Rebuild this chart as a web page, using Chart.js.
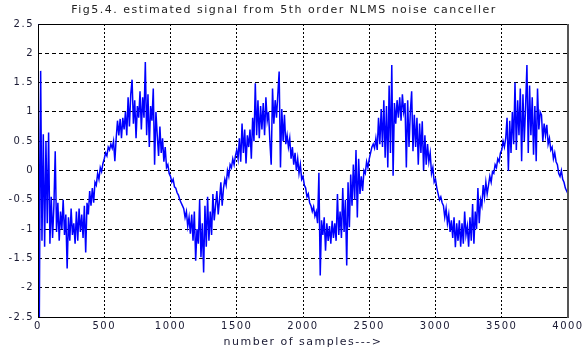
<!DOCTYPE html>
<html>
<head>
<meta charset="utf-8">
<script src="https://cdn.jsdelivr.net/npm/chart.js@4.4.0/dist/chart.umd.min.js"></script>
<style>
  html, body { margin: 0; padding: 0; background: #fff; }
  #wrap { width: 586px; height: 351px; position: relative; }
</style>
</head>
<body>
<div id="wrap"><canvas id="chart"></canvas></div>
<script>
// estimated signal, every 10 samples
const sampleStep = 10;
const signal = [
  2.5, -2.5, 1.7, -1.2, 0.62, -1.3, 0.5, -0.9, 0.65, -1.25,
  -0.45, -1.15, -0.6, 0.33, -1.05, -0.55, -1.2, -0.7, -1.0, -0.5,
  -1.1, -0.75, -1.67, -0.8, -1.2, -0.65, -1.1, -0.9, -1.25, -0.7,
  -1.2, -0.65, -1.05, -0.75, -1.15, -0.6, -1.4, -0.55, -0.75, -0.35,
  -0.6, -0.3, -0.55, -0.2, -0.25, -0.05, -0.15, 0.05, -0.02, 0.12,
  0.2, 0.3, 0.25, 0.4, 0.35, 0.45, 0.38, 0.5, 0.16, 0.55,
  0.85, 0.6, 0.88, 0.55, 0.9, 0.7, 1.0, 0.6, 1.25, 0.75,
  1.3, 1.55, 0.8, 1.2, 0.55, 1.1, 0.9, 1.35, 0.7, 1.25,
  0.9, 1.85, 0.6, 1.3, 0.4, 1.1, 0.85, 1.4, 0.1, 1.0,
  0.6, 0.25, 0.75, 0.3, 0.55, 0.15, 0.4, 0.05, 0.1, -0.05,
  -0.1, -0.2, -0.15, -0.28, -0.3, -0.38, -0.42, -0.5, -0.55, -0.6,
  -0.65, -0.8, -0.7, -0.95, -0.8, -1.08, -0.75, -1.2, -0.7, -1.54,
  -1.0, -1.25, -0.5, -1.48, -0.9, -1.74, -0.6, -1.3, -0.45, -1.2,
  -0.7, -1.1, -0.4, -0.85, -0.6, -0.35, -0.75, -0.5, -0.2, -0.6,
  -0.3, -0.15, -0.25, 0.0, -0.1, 0.1, 0.05, 0.2, 0.1, 0.25,
  0.35, 0.2, 0.55, 0.15, 0.8, 0.3, 0.7, 0.12, 0.6, 0.4,
  0.7, 0.2, 0.9, 0.5, 1.49, 0.6, 1.2, 0.55, 1.1, 0.7,
  1.15, 0.6, 1.25, 0.85, 1.0, 0.5, 0.1, 1.4, 0.8, 1.2,
  0.9, 1.3, 1.69, 0.05, 1.05, 0.5, 0.95, 0.45, 0.6, 0.4,
  0.55, 0.2, 0.4, 0.1, 0.3, 0.0, 0.2, -0.05, 0.1, -0.15,
  -0.1, -0.25, -0.3, -0.45, -0.4, -0.55, -0.6, -0.7, -0.62, -0.78,
  -0.7, -0.9, -0.04, -1.79, -0.85, -1.1, -0.8, -1.37, -0.9, -1.2,
  -0.95, -1.25, -0.86, -1.15, -0.9, -1.2, -0.4, -1.1, -0.7, -1.15,
  -0.3, -1.05, -0.5, -1.62, -0.2, -0.97, -0.07, -0.6, 0.1, -0.5,
  0.35, -0.8, 0.2, -0.4, -0.1, -0.35, 0.0, -0.05, 0.15, 0.05,
  0.2, 0.3, 0.4, 0.45, 0.38, 0.55, 0.35, 0.9, 0.45, 1.05,
  0.4, 1.2, 0.22, 1.1, 0.05, 1.45, 0.3, 1.8, -0.09, 1.15,
  0.8, 1.2, 0.9, 1.25, 0.85, 1.3, 1.0, 1.15, 0.05, 1.2,
  0.4, 1.0, 1.35, 0.33, 0.95, 0.4, 0.9, 0.1, 0.8, 0.3,
  0.84, 0.0, 0.6, 0.1, 0.45, 0.15, 0.3, -0.05, 0.05, -0.2,
  -0.15, -0.3, -0.4, -0.5, -0.45, -0.55, -0.6, -0.8, -0.65, -0.9,
  -0.75, -1.05, -0.85, -1.15, -0.8, -1.31, -0.9, -1.2, -0.85, -1.3,
  -0.9, -1.25, -0.7, -1.1, -0.95, -1.3, -0.8, -1.2, -0.57, -1.25,
  -0.7, -1.0, -0.3, -0.9, -0.5, -0.6, -0.25, -0.45, -0.2, -0.4,
  -0.25, -0.1, -0.2, -0.02, -0.05, 0.1, 0.05, 0.2, 0.15, 0.3,
  0.35, 0.5, 0.4, 0.55, 0.9, -0.01, 0.85, 0.3, 1.0, 0.45,
  1.5, 0.35, 1.2, 0.6, 1.4, 0.16, 1.3, 0.5, 1.1, 1.8,
  0.3, 1.45, 0.6, 1.25, 0.27, 1.1, 0.16, 1.4, 0.7, 1.0,
  0.95, 0.5, 0.8, 0.6, 0.78, 0.45, 0.55, 0.35, 0.4, 0.2,
  0.3, 0.15, 0.1, -0.05, -0.1, 0.0, -0.15, -0.2, -0.3, -0.35,
  -0.4
];

const xRange = [0, 4000];
const xStep = 500;
const yRange = [-2.5, 2.5];
const yStep = 0.5;

const titleText = "Fig5.4. estimated signal from 5th order NLMS noise canceller";
const xLabel = "number of samples--->";

const points = signal.map((v, i) => ({ x: i * sampleStep, y: v }));

const fontFamily = "'DejaVu Sans', sans-serif";

// the original lettering is wide, so space the glyphs a bit
const wideText = {
  id: "wideText",
  beforeDraw(chart) {
    chart.ctx.letterSpacing = "1.5px";
  },
};

// solid box round the plot, right edge darker like the original
const frame = {
  id: "frame",
  afterDraw(chart) {
    const { ctx, chartArea: a } = chart;
    ctx.save();
    ctx.setLineDash([]);
    ctx.strokeStyle = "#000";
    ctx.lineWidth = 1;
    ctx.beginPath();
    ctx.moveTo(a.right, a.top + 0.5);
    ctx.lineTo(a.left + 0.5, a.top + 0.5);
    ctx.lineTo(a.left + 0.5, a.bottom + 0.5);
    ctx.lineTo(a.right, a.bottom + 0.5);
    ctx.stroke();
    ctx.strokeStyle = "#555";
    ctx.lineWidth = 2;
    ctx.beginPath();
    ctx.moveTo(a.right, a.top);
    ctx.lineTo(a.right, a.bottom + 1);
    ctx.stroke();
    ctx.restore();
  },
};

new Chart(document.getElementById("chart"), {
  type: "line",
  data: {
    datasets: [
      {
        data: points,
        borderColor: "#0000ff",
        borderWidth: 1.5,
        pointRadius: 0,
        tension: 0,
        fill: false,
      },
    ],
  },
  options: {
    responsive: true,
    maintainAspectRatio: false,
    animation: false,
    layout: {
      padding: { top: 0, left: 0, right: 18, bottom: 0 },
    },
    plugins: {
      legend: { display: false },
      tooltip: { enabled: false },
      title: {
        display: true,
        text: titleText,
        color: "#222",
        font: { family: fontFamily, size: 11, weight: "normal", lineHeight: 1.2 },
        padding: { top: 4, bottom: 6.8 },
      },
    },
    scales: {
      x: {
        type: "linear",
        min: xRange[0],
        max: xRange[1],
        afterFit: (s) => { s.height = 34; },
        ticks: {
          stepSize: xStep,
          color: "#1a1a33",
          padding: 3,
          maxRotation: 0,
          font: { family: fontFamily, size: 10 },
          callback: (v) => String(v),
        },
        grid: { color: "#000", lineWidth: 1, drawTicks: false },
        border: { display: false, dash: [2, 2] },
        title: {
          display: true,
          text: xLabel,
          color: "#1a1a33",
          font: { family: fontFamily, size: 11 },
          padding: { top: 0, bottom: 2 },
        },
      },
      y: {
        min: yRange[0],
        max: yRange[1],
        afterFit: (s) => { s.width = 38; },
        ticks: {
          stepSize: yStep,
          color: "#1a1a33",
          padding: 4,
          font: { family: fontFamily, size: 10 },
          callback: (v) => String(Math.round(v * 10) / 10),
        },
        grid: { color: "#000", lineWidth: 1, drawTicks: false },
        border: { display: false, dash: [4, 3] },
      },
    },
  },
  plugins: [wideText, frame],
});
</script>
</body>
</html>
